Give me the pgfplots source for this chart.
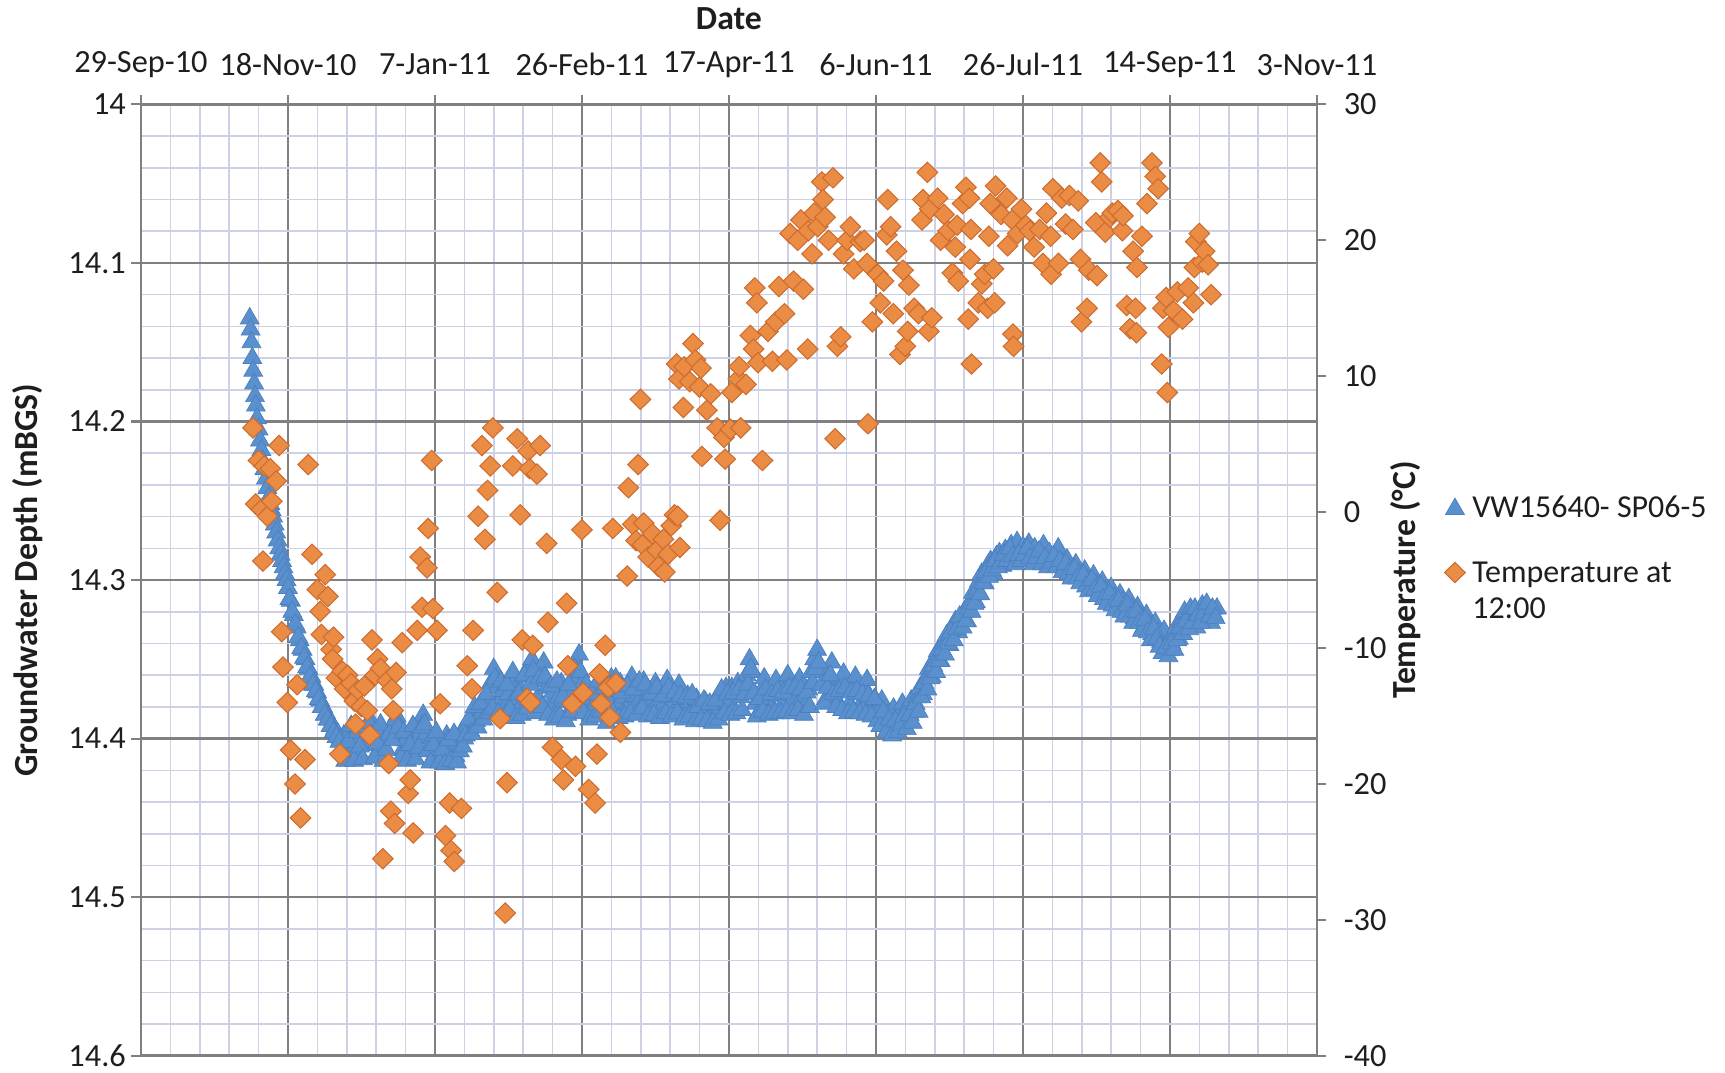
\documentclass[border=0pt]{standalone}
\usepackage{pgfplots}
\pgfplotsset{compat=1.18}
\usepackage{pgfplotstable}
\usepackage{fontspec}
\setmainfont{Carlito}
\definecolor{wlblue}{RGB}{90,144,205}
\definecolor{wledge}{RGB}{76,128,190}
\definecolor{tmporange}{RGB}{234,140,68}
\definecolor{tmpedge}{RGB}{205,108,48}
\definecolor{majgrid}{RGB}{128,128,128}
\definecolor{mingrid}{RGB}{206,209,229}
\definecolor{txt}{RGB}{30,30,30}
\tikzset{
  tickfont/.style={font=\fontsize{9.2}{10}\selectfont, text=txt},
  labfont/.style={font=\bfseries\fontsize{9.6}{11}\selectfont, text=txt},
}
\pgfplotstableread{
day depth
37.0 14.135
37.3 14.142
37.6 14.150
37.9 14.160
38.2 14.168
38.5 14.176
38.8 14.184
39.1 14.190
39.5 14.198
40.0 14.205
40.5 14.212
41.0 14.218
41.5 14.225
42.0 14.230
42.5 14.236
43.0 14.242
43.5 14.248
44.0 14.252
44.5 14.256
45.0 14.260
45.5 14.265
46.0 14.270
46.5 14.275
47.0 14.280
47.5 14.284
48.0 14.288
48.5 14.292
49.0 14.296
49.5 14.300
50 14.305
51 14.313
52 14.322
53 14.330
54 14.338
55 14.344
56 14.350
57 14.356
58 14.361
59 14.366
60 14.371
61 14.376
62 14.380
63 14.384
64 14.388
65 14.391
66 14.394
67 14.397
68 14.400
69 14.398
70 14.410
71 14.396
72 14.408
73 14.401
74 14.412
75 14.399
76 14.404
77 14.395
78 14.388
79 14.402
80 14.410
81 14.397
82 14.405
83 14.412
84 14.400
85 14.394
86 14.390
87 14.386
88 14.398
89 14.407
90 14.401
91 14.411
92 14.396
93 14.404
94 14.399
95 14.389
96 14.385
97 14.397
98 14.406
99 14.400
100 14.410
101 14.404
102 14.413
103 14.405
104 14.398
105 14.409
106 14.402
107 14.411
108 14.403
109 14.396
110 14.400
111 14.392
112 14.395
113 14.386
114 14.389
115 14.381
116 14.384
117 14.376
118 14.379
119 14.365
120 14.356
121 14.368
122 14.376
123 14.370
124 14.380
125 14.372
126 14.364
127 14.375
128 14.383
129 14.369
130 14.361
131 14.372
132 14.355
133 14.350
134 14.364
135 14.374
136 14.356
137 14.352
138 14.368
139 14.379
140 14.371
141 14.384
142 14.374
143 14.365
144 14.377
145 14.385
146 14.372
147 14.362
148 14.353
149 14.347
150 14.366
151 14.378
152 14.372
153 14.383
154 14.369
155 14.376
156 14.363
157 14.375
158 14.386
159 14.373
160 14.362
161 14.370
162 14.379
163 14.365
164 14.374
165 14.382
166 14.368
167 14.361
168 14.373
169 14.378
170 14.369
171 14.364
172 14.374
173 14.380
174 14.371
175 14.365
176 14.376
177 14.381
178 14.370
179 14.363
180 14.374
181 14.379
182 14.371
183 14.366
184 14.375
185 14.381
186 14.373
187 14.377
188 14.383
189 14.375
190 14.380
191 14.385
192 14.377
193 14.382
194 14.386
195 14.379
196 14.384
197 14.377
198 14.373
199 14.368
200 14.376
201 14.368
202 14.372
203 14.365
204 14.374
205 14.366
206 14.360
207 14.350
208 14.358
209 14.378
210 14.384
211 14.370
212 14.362
213 14.375
214 14.381
215 14.369
216 14.363
217 14.373
218 14.379
219 14.366
220 14.360
221 14.372
222 14.378
223 14.368
224 14.362
225 14.374
226 14.380
227 14.369
228 14.358
229 14.350
230 14.344
231 14.355
232 14.366
233 14.375
234 14.362
235 14.352
236 14.368
237 14.377
238 14.366
239 14.359
240 14.370
241 14.378
242 14.367
243 14.361
244 14.372
245 14.378
246 14.370
247 14.363
248 14.374
249 14.381
250 14.376
251 14.383
252 14.376
253 14.389
254 14.385
255 14.392
256 14.381
257 14.390
258 14.384
259 14.378
260 14.387
261 14.380
262 14.376
263 14.383
264 14.374
265 14.368
266 14.372
267 14.362
268 14.356
269 14.361
270 14.350
271 14.345
272 14.351
273 14.340
274 14.335
275 14.341
276 14.332
277 14.326
278 14.333
279 14.324
280 14.320
281 14.326
282 14.314
283 14.308
284 14.314
285 14.301
286 14.296
287 14.302
288 14.291
289 14.288
290 14.296
291 14.285
292 14.283
293 14.291
294 14.281
295 14.286
296 14.278
297 14.284
298 14.276
299 14.282
300 14.279
301 14.286
302 14.277
303 14.284
304 14.280
305 14.288
306 14.282
307 14.278
308 14.287
309 14.283
310 14.291
311 14.285
312 14.280
313 14.289
314 14.294
315 14.287
316 14.293
317 14.298
318 14.290
319 14.296
320 14.301
321 14.294
322 14.300
323 14.305
324 14.297
325 14.303
326 14.309
327 14.301
328 14.307
329 14.312
330 14.305
331 14.311
332 14.316
333 14.309
334 14.314
335 14.320
336 14.312
337 14.318
338 14.324
339 14.317
340 14.323
341 14.330
342 14.322
343 14.328
344 14.334
345 14.327
346 14.333
347 14.339
348 14.332
349 14.340
350 14.344
351 14.336
352 14.330
353 14.337
354 14.326
355 14.320
356 14.328
357 14.318
358 14.324
359 14.330
360 14.321
361 14.316
362 14.325
363 14.319
364 14.327
365 14.322
366 14.318
50.5 14.312
51.5 14.320
52.5 14.328
53.5 14.336
54.5 14.343
55.5 14.349
56.5 14.355
57.5 14.361
58.5 14.366
59.5 14.370
60.5 14.375
61.5 14.380
62.5 14.385
63.5 14.388
64.5 14.392
65.5 14.396
66.5 14.399
67.5 14.402
68.5 14.408
69.5 14.414
70.5 14.402
71.5 14.392
72.5 14.414
73.5 14.396
74.5 14.405
75.5 14.413
76.5 14.393
77.5 14.390
78.5 14.398
79.5 14.412
80.5 14.403
81.5 14.391
82.5 14.414
83.5 14.407
84.5 14.397
85.5 14.401
86.5 14.388
87.5 14.393
88.5 14.412
89.5 14.396
90.5 14.414
91.5 14.404
92.5 14.392
93.5 14.413
94.5 14.406
95.5 14.393
96.5 14.391
97.5 14.408
98.5 14.415
99.5 14.404
100.5 14.396
101.5 14.415
102.5 14.407
103.5 14.416
104.5 14.401
105.5 14.414
106.5 14.397
107.5 14.415
108.5 14.408
109.5 14.405
110.5 14.398
111.5 14.388
112.5 14.397
113.5 14.380
114.5 14.393
115.5 14.378
116.5 14.388
117.5 14.372
118.5 14.384
119.5 14.381
120.5 14.362
121.5 14.384
122.5 14.364
123.5 14.386
124.5 14.366
125.5 14.382
126.5 14.358
127.5 14.387
128.5 14.372
129.5 14.385
130.5 14.360
131.5 14.381
132.5 14.366
133.5 14.357
134.5 14.384
135.5 14.362
136.5 14.380
137.5 14.361
138.5 14.385
139.5 14.367
140.5 14.388
141.5 14.364
142.5 14.386
143.5 14.374
144.5 14.389
145.5 14.366
146.5 14.383
147.5 14.356
148.5 14.375
149.5 14.358
150.5 14.384
151.5 14.366
152.5 14.388
153.5 14.372
154.5 14.386
155.5 14.364
156.5 14.383
157.5 14.368
158.5 14.390
159.5 14.366
160.5 14.384
161.5 14.362
162.5 14.387
163.5 14.371
164.5 14.386
165.5 14.367
166.5 14.384
167.5 14.369
168.5 14.385
169.5 14.364
170.5 14.381
171.5 14.366
172.5 14.386
173.5 14.372
174.5 14.385
175.5 14.368
176.5 14.387
177.5 14.373
178.5 14.384
179.5 14.368
180.5 14.386
181.5 14.371
182.5 14.384
183.5 14.373
184.5 14.388
185.5 14.374
186.5 14.386
187.5 14.372
188.5 14.389
189.5 14.380
190.5 14.388
191.5 14.376
192.5 14.389
193.5 14.378
194.5 14.390
195.5 14.376
196.5 14.388
197.5 14.369
198.5 14.384
199.5 14.372
200.5 14.385
201.5 14.371
202.5 14.384
203.5 14.369
204.5 14.382
205.5 14.372
206.5 14.366
207.5 14.356
208.5 14.371
209.5 14.386
210.5 14.375
211.5 14.383
212.5 14.369
213.5 14.385
214.5 14.372
215.5 14.384
216.5 14.370
217.5 14.384
218.5 14.371
219.5 14.383
220.5 14.368
221.5 14.384
222.5 14.368
223.5 14.382
224.5 14.369
225.5 14.385
226.5 14.371
227.5 14.380
228.5 14.365
229.5 14.356
230.5 14.352
231.5 14.366
232.5 14.378
233.5 14.368
234.5 14.360
235.5 14.372
236.5 14.380
237.5 14.370
238.5 14.382
239.5 14.368
240.5 14.384
241.5 14.371
242.5 14.383
243.5 14.370
244.5 14.384
245.5 14.372
246.5 14.385
247.5 14.373
248.5 14.386
249.5 14.375
250.5 14.389
251.5 14.392
252.5 14.383
253.5 14.396
254.5 14.388
255.5 14.398
256.5 14.389
257.5 14.396
258.5 14.391
259.5 14.386
260.5 14.394
261.5 14.385
262.5 14.390
263.5 14.378
264.5 14.383
265.5 14.374
266.5 14.365
267.5 14.369
268.5 14.362
269.5 14.354
270.5 14.358
271.5 14.351
272.5 14.344
273.5 14.347
274.5 14.340
275.5 14.333
276.5 14.338
277.5 14.331
278.5 14.323
279.5 14.330
280.5 14.326
281.5 14.318
282.5 14.320
283.5 14.315
284.5 14.306
285.5 14.309
286.5 14.302
287.5 14.295
288.5 14.298
289.5 14.294
290.5 14.288
291.5 14.292
292.5 14.289
293.5 14.284
294.5 14.288
295.5 14.280
296.5 14.285
297.5 14.290
298.5 14.284
299.5 14.288
300.5 14.284
301.5 14.280
302.5 14.286
303.5 14.290
304.5 14.286
305.5 14.282
306.5 14.290
307.5 14.286
308.5 14.292
309.5 14.289
310.5 14.285
311.5 14.292
312.5 14.288
313.5 14.295
314.5 14.290
315.5 14.296
316.5 14.299
317.5 14.293
318.5 14.299
319.5 14.302
320.5 14.297
321.5 14.304
322.5 14.307
323.5 14.300
324.5 14.306
325.5 14.310
326.5 14.304
327.5 14.312
328.5 14.315
329.5 14.309
330.5 14.316
331.5 14.319
332.5 14.313
333.5 14.320
334.5 14.323
335.5 14.316
336.5 14.323
337.5 14.327
338.5 14.320
339.5 14.327
340.5 14.332
341.5 14.325
342.5 14.333
343.5 14.338
344.5 14.331
345.5 14.337
346.5 14.342
347.5 14.346
348.5 14.343
349.5 14.348
350.5 14.340
351.5 14.344
352.5 14.338
353.5 14.330
354.5 14.334
355.5 14.326
356.5 14.331
357.5 14.327
358.5 14.318
359.5 14.322
360.5 14.327
361.5 14.321
362.5 14.315
363.5 14.323
364.5 14.318
365.5 14.324
}\depthtable
\pgfplotstableread{
day temp
38.1 6.2
39 0.6
40 3.8
41 0.2
41.5 -3.6
42 3.4
43 -0.3
44 3.2
44.5 0.8
46 2.3
47 4.9
47.9 -8.8
48.3 -11.4
49.8 -14.0
50.9 -17.5
52.4 -20.0
53.1 -12.7
54.3 -22.5
55.8 -18.2
56.9 3.5
58.2 -3.1
60 -5.7
61 -7.3
61.4 -9.0
62.7 -4.6
63.6 -6.2
64.7 -10.1
65.2 -10.8
65.5 -9.2
66.5 -12.2
67.7 -17.8
68.5 -11.7
69.3 -13.0
70.3 -12.0
71.5 -12.6
72.6 -13.9
73 -15.6
73.9 -13.1
75 -14.3
76 -12.8
77 -14.6
77.8 -16.4
78.6 -9.4
79.7 -12.0
80.5 -10.8
81.5 -11.5
82.3 -25.5
83.8 -12.4
84.3 -18.5
85 -22.0
85.3 -13.0
85.8 -14.6
86.3 -22.9
86.8 -11.8
88.9 -9.6
90.9 -20.7
91.6 -19.7
92.6 -23.6
94 -8.7
95 -3.3
95.6 -7.0
97.3 -4.1
97.7 -1.2
98.9 3.8
99.3 -7.1
100.7 -8.7
101.8 -14.1
103.6 -23.8
105 -21.4
105.5 -24.9
106.6 -25.7
109 -21.8
111 -11.3
112.6 -13.0
113 -8.7
114.7 -0.3
116 4.9
117 -2.0
117.9 1.6
118.8 3.4
119.7 6.2
121.2 -5.9
122.2 -15.2
123.9 -29.5
124.5 -19.9
126.5 3.4
128 5.4
129 -0.2
129.7 -9.4
131.3 -13.7
131.7 4.5
132.2 3.2
132.5 -14.0
133.3 -9.8
134.7 2.8
135.8 4.9
138 -2.3
138.4 -8.1
140 -17.3
143 -18.2
143.7 -19.7
144.8 -6.7
145.2 -11.3
146.7 -14.1
147.8 -18.7
150 -1.3
150.4 -13.3
152.3 -20.4
154.5 -21.4
155.1 -17.8
156 -11.9
156.5 -14.1
157.9 -9.8
159 -12.9
159.5 -15.1
160.5 -1.2
161.6 -12.6
163.1 -16.2
165.4 -4.7
165.8 1.8
167.3 -0.9
168.4 -2.1
169.1 3.5
169.9 8.3
170.6 -2.4
171 -0.8
172.5 -3.3
174 -1.6
175.5 -2.8
176 -4.0
177.7 -2.0
178.2 -4.4
179.3 -3.1
180.4 -1.0
181.5 -0.2
182.2 10.9
182.6 -0.3
183 9.8
183.3 -2.6
184.5 7.7
184.8 10.7
186.7 9.6
187.8 12.4
188.6 11.2
190 9.2
190.5 10.6
190.8 4.1
192.5 7.5
193.8 8.7
196 6.2
197 -0.6
198.3 5.5
198.7 3.9
200.5 6.1
201 8.8
203.2 9.8
203.5 10.7
204 6.2
205.8 9.4
207.3 13.0
208.4 12.0
208.8 16.5
209.5 15.4
209.9 11.0
211.4 3.8
213.3 13.3
214.8 11.1
215.9 14.0
217 16.6
218.9 14.6
219.7 11.2
220.8 20.5
222 17.0
223.4 20.0
224.5 21.5
225.3 16.4
226.8 12.0
227 20.7
228.3 19.0
229 22.0
230.2 21.0
231.6 24.3
232 23.0
232.7 21.7
233.9 20.0
235.4 24.6
236.1 5.4
236.9 12.2
238 12.9
239 19.0
240.2 20.0
241.3 21.0
242.5 17.9
244.7 19.9
246 20.0
247 18.3
247.3 6.5
248.8 14.0
250.6 17.5
251.5 15.4
252.6 17.0
253.7 20.4
254 23.0
255 21.0
255.9 14.6
257 19.2
258.2 11.6
259.2 17.8
260 12.2
260.8 13.3
261.2 16.7
263 15.0
264.5 14.6
265.7 21.5
266 23.0
267.5 25.0
268 13.3
268.3 22.3
269 14.3
271 23.1
272 20.0
273.2 21.9
274.6 20.7
276 17.6
277 19.5
277.6 21.1
278 17.0
279.5 22.7
280.6 23.9
281.4 14.2
281.8 23.1
282 18.6
282.3 20.8
282.5 10.9
284.8 15.4
286 16.8
287 17.5
288 15.0
288.4 20.3
288.9 22.7
290 17.9
290.4 15.4
290.7 24.0
292.6 21.9
294.5 23.1
294.8 19.6
296.4 21.5
296.6 13.1
296.8 12.2
298.2 20.5
299.5 22.3
301 21.1
302.3 20.7
303.8 19.5
305.7 20.8
306.8 18.3
308 22.0
309.4 20.3
309.6 17.5
310.2 23.8
312.1 18.3
313.2 23.1
314.5 21.2
315.8 23.3
317 20.8
318.8 22.9
319.6 18.6
319.9 14.0
321.8 15.0
322.4 17.8
324.8 21.3
325.2 17.4
326.3 25.7
326.8 24.3
328 20.6
329.6 21.7
330.4 22.0
332.3 22.2
333.8 20.7
334 21.8
335.3 15.2
336.4 13.5
337.5 19.2
338.3 15.0
338.6 13.2
338.8 18.0
340.5 20.3
342.2 22.7
343.9 25.7
345 24.7
346 23.8
347.2 10.9
347.6 15.0
348.7 15.8
349.1 8.8
349.5 13.6
351.3 14.8
352.5 16.2
354.3 14.2
356.2 16.5
358 15.4
358.3 18.0
358.8 19.9
360 20.5
361 18.4
361.8 19.2
363 18.2
364 16.0
}\temptable
\begin{document}
\begin{tikzpicture}
\begin{axis}[
  scale only axis, width=334.6pt, height=270.7pt,
  at={(0pt,0pt)}, anchor=south west,
  xmin=0, xmax=400, ymin=14, ymax=14.6, y dir=reverse,
  xtick={0,50,...,400}, xticklabels={},
  x tick style={draw=none},
  ytick={14,14.1,14.2,14.3,14.4,14.5,14.6},
  yticklabels={14,14.1,14.2,14.3,14.4,14.5,14.6},
  ytick pos=left,
  minor x tick num=4, minor y tick num=4,
  minor tick length=0pt,
  tick align=outside, major tick length=2.8pt,
  tick style={majgrid, line width=0.6pt},
  grid=both,
  major grid style={majgrid, line width=0.7pt},
  minor grid style={mingrid, line width=0.45pt},
  axis line style={majgrid, line width=0.8pt},
  yticklabel style={tickfont, inner sep=1.3pt},
  ylabel={Groundwater Depth (mBGS)},
  ylabel style={at={(axis description cs:-0.0965,0.5)}, anchor=center, labfont},
  clip=false,
]
\addplot[only marks, mark=triangle*, mark size=3.1pt,
  mark options={fill=wlblue, draw=wledge, line width=0.2pt}]
  table[x=day, y=depth] {\depthtable};
\end{axis}
\begin{axis}[
  scale only axis, width=334.6pt, height=270.7pt,
  at={(0pt,0pt)}, anchor=south west,
  xmin=0, xmax=400, ymin=-40, ymax=30,
  axis x line*=top, axis y line*=right,
  xtick={0,50,...,400},
  xticklabels={29-Sep-10,18-Nov-10,7-Jan-11,26-Feb-11,17-Apr-11,6-Jun-11,26-Jul-11,14-Sep-11,3-Nov-11},
  ytick={-40,-30,-20,-10,0,10,20,30},
  yticklabels={-40,-30,-20,-10,0,10,20,30},
  minor tick num=0,
  tick align=outside, major tick length=2.6pt,
  tick style={majgrid, line width=0.6pt},
  axis line style={majgrid, line width=0.8pt},
  xticklabel style={tickfont, anchor=center, yshift=8.7pt},
  yticklabel style={tickfont, xshift=1.5pt},
  xlabel={Date},
  xlabel style={at={(axis description cs:0.5,1.09)}, anchor=center, labfont},
  ylabel={Temperature (°C)},
  ylabel style={at={(axis description cs:1.0756,0.5)}, anchor=center, labfont},
  legend style={at={(axis description cs:1.108,0.597)}, anchor=north west, draw=none, fill=none,
    font=\fontsize{9.1}{10.3}\selectfont, text=txt, row sep=5.9pt, inner sep=0pt},
  legend cell align=left,
  legend image code/.code={\draw[#1] plot coordinates {(0pt,0pt)};},
  clip=false,
]
\addlegendimage{only marks, mark=triangle*, mark size=3.1pt, mark options={fill=wlblue, draw=wledge, line width=0.2pt}}
\addlegendentry{VW15640- SP06-5}
\addplot[only marks, mark=diamond*, mark size=2.9pt,
  mark options={xscale=1.35, fill=tmporange, draw=tmpedge, line width=0.3pt}]
  table[x=day, y=temp] {\temptable};
\addlegendentry{\begin{tabular}[t]{@{}l@{}}Temperature at\\12:00\end{tabular}}
\end{axis}
\pgfresetboundingbox
\path[use as bounding box] (-40.1pt,-4.84pt) rectangle (450.7pt,300.4pt);
\end{tikzpicture}
\end{document}
